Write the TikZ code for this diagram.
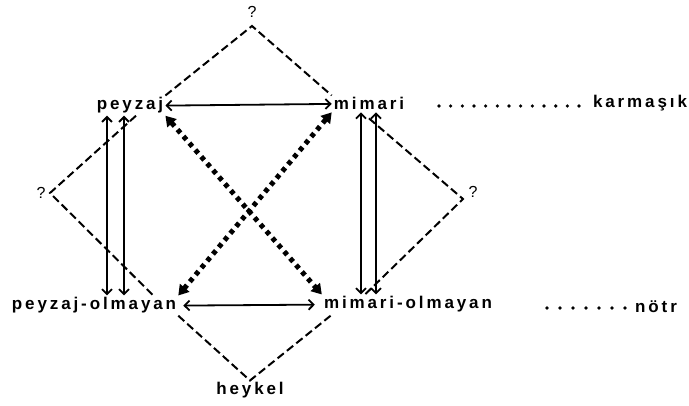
\documentclass[tikz,border=0pt]{standalone}
\usepackage{fontspec}
\newfontfamily\lblfont[LetterSpace=17]{Liberation Sans}
\usetikzlibrary{arrows.meta}

\begin{document}
\begin{tikzpicture}[x=1pt, y=-1pt, every node/.style={inner sep=2pt},
  lbl/.style={anchor=base, font=\lblfont\bfseries\fontsize{17}{19}\selectfont},
  qm/.style={font=\lblfont\fontsize{16}{18}\selectfont},
  arr/.style={{Straight Barb[length=5pt,width=10pt]}-{Straight Barb[length=5pt,width=10pt]}, line width=1.8pt},
  dotarr/.style={{Triangle[length=10pt,width=12pt]}-{Triangle[length=10pt,width=12pt]}, line width=5pt, dash pattern=on 4.5pt off 4.5pt},
  dsh/.style={line width=2pt, dash pattern=on 8pt off 4pt}]
  \useasboundingbox (0,0) rectangle (689,406);
  \node[lbl] (peyzaj) at (130,110) {peyzaj};
  \node[lbl] (mimari) at (369,110) {mimari};
  \node[lbl] (karm) at (640,108) {karmaşık};
  \node[lbl] (pnon) at (94,310) {peyzaj-olmayan};
  \node[lbl] (mnon) at (408,309) {mimari-olmayan};
  \node[lbl] (notr) at (656,313) {nötr};
  \node[lbl] (heykel) at (250,395) {heykel};
  \node[qm] (topq) at (252,12) {?};
  \node[qm] (leftq) at (41,193) {?};
  \node[qm] (rightq) at (473,192) {?};
  \coordinate (tapex) at (252,26);
  \coordinate (lapex) at (50,193);
  \coordinate (rapex) at (463,199);
  % dashed diamonds
  \draw[dsh] (peyzaj.north east) -- (tapex) -- (mimari.north west);
  \draw[dsh] ([xshift=6pt]peyzaj.south) -- (lapex) -- ([xshift=-25pt]pnon.north east);
  \draw[dsh] ([yshift=-6pt]mimari.south) -- (rapex) -- ([xshift=-43pt]mnon.north);
  \draw[dsh] (pnon.south east) -- (heykel.north) -- ([xshift=10pt]mnon.south west);
  % arrows
  \draw[arr] (peyzaj.east) -- (mimari.west);
  \draw[arr, shorten <=5pt, shorten >=7pt] (pnon.east) -- (mnon.west);
  \foreach \dx in {-23,-6}
    \draw[arr] ([xshift=\dx pt]peyzaj.south) -- ([xshift=\dx pt]peyzaj.south |- pnon.north);
  \foreach \dx in {-8,7}
    \draw[arr] ([xshift=\dx pt]mimari.south) -- ([xshift=\dx pt]mimari.south |- mnon.north);
  \draw[dotarr] (peyzaj.south east) -- (mnon.north west);
  \draw[dotarr] (mimari.south west) -- (pnon.north east);
  % dotted leaders
  \foreach \i in {0,...,12}
    \fill (439+11.67*\i,106) circle (1.8);
  \foreach \i in {0,...,6}
    \fill (547+13*\i,308) circle (1.8);
\end{tikzpicture}
\end{document}
